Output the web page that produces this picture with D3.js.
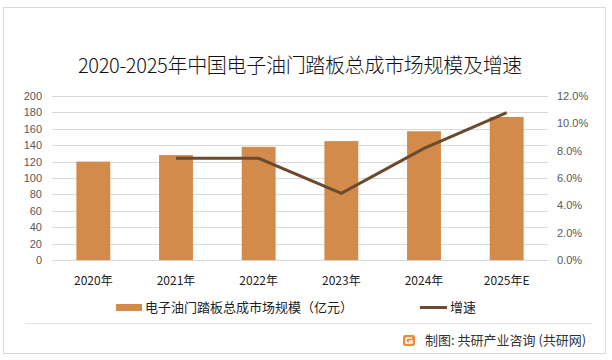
<!DOCTYPE html>
<html><head><meta charset="utf-8">
<script src="https://cdn.jsdelivr.net/npm/d3@7"></script>
<style>
body{margin:0;background:#fff;}
text{font-family:"Noto Sans CJK SC","Noto Sans",sans-serif;}
</style></head>
<body><svg id="c" width="612" height="360"></svg>
<script>
const categories = ["2020年","2021年","2022年","2023年","2024年","2025年E"];
const marketSize = [120, 128, 138, 145, 157, 174.5];
const growth = [null, 7.44, 7.44, 4.88, 8.17, 10.78];
const leftTicks = [0,20,40,60,80,100,120,140,160,180,200];
const rightTicks = [0,2,4,6,8,10,12];

const svg = d3.select("#c");
const W=612,H=360;
svg.append("rect").attr("x",0).attr("y",0).attr("width",W).attr("height",H).attr("fill","#fff");
svg.append("rect").attr("x",3.5).attr("y",7.5).attr("width",602).attr("height",346)
  .attr("fill","none").attr("stroke","#d9d9d9").attr("stroke-width",1);

svg.append("text").attr("x",300).attr("y",73).attr("text-anchor","middle")
  .attr("font-size",20).attr("fill","#111").attr("font-weight",300)
  .style("letter-spacing","-0.3px")
  .text("2020-2025年中国电子油门踏板总成市场规模及增速");

const x = d3.scaleBand().domain(categories).range([52,548]).paddingInner(0.59).paddingOuter(0.295);
const y = d3.scaleLinear().domain([0,200]).range([260,96]);
const y2 = d3.scaleLinear().domain([0,12]).range([260,96]);

// gridlines
svg.append("g").selectAll("line").data(leftTicks).join("line")
  .attr("x1",52).attr("x2",548).attr("y1",d=>Math.round(y(d))+0.5).attr("y2",d=>Math.round(y(d))+0.5)
  .attr("stroke","#d9d9d9").attr("stroke-width",1);

// left axis
const ga = svg.append("g").attr("transform","translate(52,0)")
  .call(d3.axisLeft(y).tickValues(leftTicks).tickSize(0).tickPadding(10));
ga.select(".domain").remove();
ga.selectAll("text").attr("font-size",11).attr("fill","#595959").style("font-family","'Liberation Sans',sans-serif");

// right axis
const gr = svg.append("g").attr("transform","translate(548,0)")
  .call(d3.axisRight(y2).tickValues(rightTicks).tickSize(0).tickPadding(9).tickFormat(d=>d.toFixed(1)+"%"));
gr.select(".domain").remove();
gr.selectAll("text").attr("font-size",11).attr("fill","#595959").style("font-family","'Liberation Sans',sans-serif");

// bars
svg.append("g").selectAll("rect").data(marketSize).join("rect")
  .attr("x",(d,i)=>x(categories[i])).attr("width",x.bandwidth())
  .attr("y",d=>y(d)).attr("height",d=>y(0)-y(d)).attr("fill","#D38B4C");

// x axis
const gx = svg.append("g").attr("transform","translate(0,260)")
  .call(d3.axisBottom(x).tickSize(0).tickPadding(16));
gx.select(".domain").attr("stroke","#d9d9d9");
gx.selectAll("text").attr("font-size",12).attr("fill","#222");

// line
const pts = growth.map((g,i)=>({g,c:categories[i]})).filter(p=>p.g!==null);
svg.append("path").datum(pts)
  .attr("d",d3.line().x(p=>x(p.c)+x.bandwidth()/2).y(p=>y2(p.g)))
  .attr("fill","none").attr("stroke","#6B4A2E").attr("stroke-width",3);

// legend
svg.append("rect").attr("x",116).attr("y",304).attr("width",26).attr("height",7).attr("fill","#D38B4C");
svg.append("text").attr("x",145).attr("y",312).attr("font-size",13).attr("fill","#222")
  .text("电子油门踏板总成市场规模（亿元）");
svg.append("line").attr("x1",420).attr("x2",447).attr("y1",307.5).attr("y2",307.5)
  .attr("stroke","#6B4A2E").attr("stroke-width",3);
svg.append("text").attr("x",450).attr("y",312).attr("font-size",13).attr("fill","#222").text("增速");

// footer
svg.append("line").attr("x1",25).attr("x2",592).attr("y1",323.5).attr("y2",323.5)
  .attr("stroke","#e6e6e6").attr("stroke-width",1);
const lg = svg.append("g").attr("transform","translate(403,335)");
lg.append("rect").attr("width",12).attr("height",11).attr("rx",2).attr("fill","#F08A3C");
lg.append("path").attr("d","M3,3 H9 M3,3 V8 H9 V6 H6").attr("stroke","#fff").attr("stroke-width",1.6).attr("fill","none");
svg.append("text").attr("x",425).attr("y",345).attr("font-size",13).attr("fill","#333")
  .text("制图: 共研产业咨询 (共研网)");
</script></body></html>
